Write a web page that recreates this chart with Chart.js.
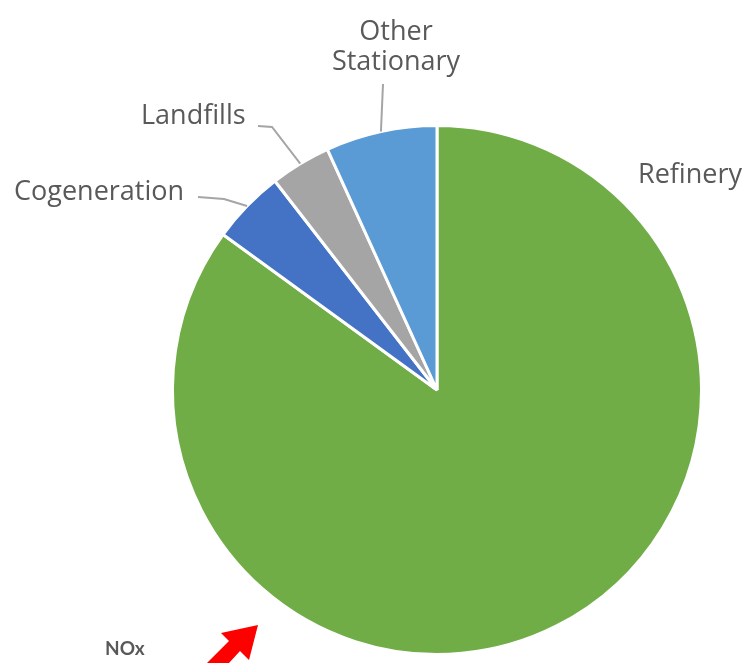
<!DOCTYPE html>
<html>
<head>
<meta charset="utf-8">
<script src="https://cdn.jsdelivr.net/npm/chart.js@4"></script>
<style>
  html, body { margin: 0; padding: 0; background: #fff; }
  #wrap { width: 751px; height: 663px; position: relative; }
</style>
</head>
<body>
<div id="wrap"><canvas id="nox-chart"></canvas></div>
<script>
// Datos del gráfico (porcentaje de emisiones NOx por fuente)
const categories = ['Refinery', 'Cogeneration', 'Landfills', 'Other Stationary'];
const shares = [85.0, 4.5, 3.7, 6.8];
const sliceColors = ['#70AD47', '#4472C4', '#A5A5A5', '#5B9BD5'];

// Posición de las etiquetas (texto) y puntos de quiebre de las líneas guía
const labelSpecs = [
    { lines: ['Refinery'], x: 638, y: 183, align: 'left', leader: null },
    { lines: ['Cogeneration'], x: 14, y: 200, align: 'left', leader: [[198, 197], [224, 199]] },
    { lines: ['Landfills'], x: 141, y: 124, align: 'left', leader: [[258, 126], [272, 127]] },
    { lines: ['Other', 'Stationary'], x: 396, y: 40, align: 'center', leader: [[383, 84]] }
];

// Plugin para dibujar etiquetas, líneas guía, el texto NOx y la flecha roja
const annotations = {
    id: 'annotations',
    afterDraw(chart) {
        const ctx = chart.ctx;
        const arcs = chart.getDatasetMeta(0).data;
        ctx.save();
        ctx.font = '27px "Open Sans"';
        ctx.fillStyle = '#595959';
        labelSpecs.forEach((spec, i) => {
            ctx.textAlign = spec.align;
            ctx.textBaseline = 'alphabetic';
            spec.lines.forEach((line, k) => {
                ctx.fillText(line, spec.x, spec.y + k * 30);
            });
            if (spec.leader) {
                const p = arcs[i].getProps(['x', 'y', 'startAngle', 'endAngle', 'outerRadius'], true);
                const mid = (p.startAngle + p.endAngle) / 2;
                const ex = p.x + Math.cos(mid) * p.outerRadius;
                const ey = p.y + Math.sin(mid) * p.outerRadius;
                ctx.strokeStyle = '#A5A5A5';
                ctx.lineWidth = 2;
                ctx.beginPath();
                ctx.moveTo(spec.leader[0][0], spec.leader[0][1]);
                spec.leader.slice(1).forEach(pt => ctx.lineTo(pt[0], pt[1]));
                ctx.lineTo(ex, ey);
                ctx.stroke();
            }
        });

        // Texto NOx
        ctx.font = 'bold 19px Lato';
        ctx.fillStyle = '#595959';
        ctx.textAlign = 'left';
        ctx.fillText('NOx', 105, 655);

        // Flecha roja
        ctx.fillStyle = '#FF0000';
        ctx.beginPath();
        ctx.moveTo(258, 625);
        ctx.lineTo(249, 660);
        ctx.lineTo(240, 651);
        ctx.lineTo(218, 675);
        ctx.lineTo(206, 664);
        ctx.lineTo(229, 641);
        ctx.lineTo(221, 633);
        ctx.closePath();
        ctx.fill();
        ctx.restore();
    }
};

const ctx = document.getElementById('nox-chart').getContext('2d');
new Chart(ctx, {
    type: 'pie',
    data: {
        labels: categories,
        datasets: [{
            data: shares,
            backgroundColor: sliceColors,
            borderColor: '#ffffff',
            borderWidth: 3
        }]
    },
    options: {
        responsive: true,
        maintainAspectRatio: false,
        animation: false,
        layout: {
            padding: { top: 124, bottom: 7, left: 171, right: 48 }
        },
        plugins: {
            legend: { display: false },
            tooltip: { enabled: false }
        }
    },
    plugins: [annotations]
});
</script>
</body>
</html>
